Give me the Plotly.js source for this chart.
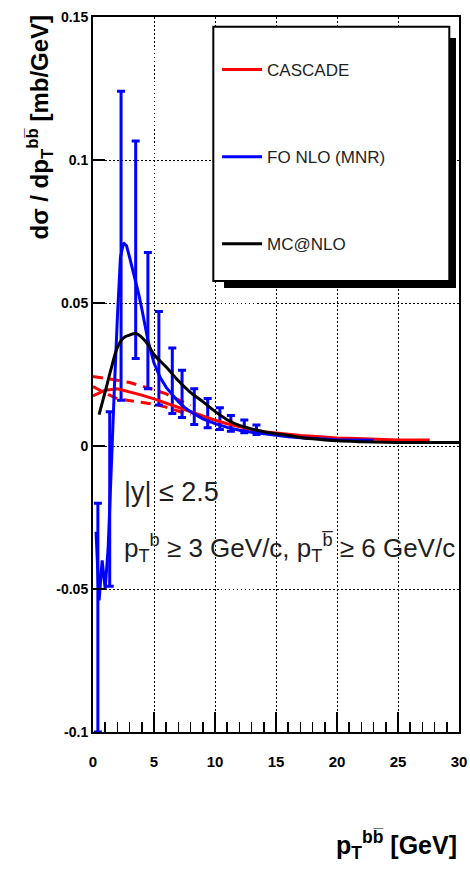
<!DOCTYPE html>
<html>
<head>
<meta charset="utf-8">
<script src="https://cdn.plot.ly/plotly-3.0.1.min.js"></script>
<style>html,body{margin:0;padding:0;background:#fff;}#chart{width:470px;height:871px;}</style>
</head>
<body>
<div id="chart"></div>
<script>
// ---- data ----
const cascadeX = [0,1,2,3,4,5,6,7,8,9,10,11,12,13,14,15,16,17,18,19,20,21,22,23,24,25,26,27,27.6];
const cascadeY = [0.0175,0.0195,0.0200,0.0190,0.0178,0.0165,0.0150,0.0133,0.0118,0.0103,0.0090,0.0078,0.0067,0.0058,0.0050,0.0045,0.0041,0.0037,0.0034,0.0030,0.0028,0.0027,0.0025,0.0023,0.0022,0.0021,0.0021,0.0021,0.0021];
const cascadeBandX = [0,1,2,3,4,5,6,7,8];
const cascadeUpY = [0.0243,0.0237,0.0230,0.0222,0.0210,0.0197,0.0182,0.0162,0.0142];
const cascadeLoY = [0.0208,0.0185,0.0165,0.0158,0.0152,0.0146,0.0136,0.0122,0.0108];

const fonloX = [0.25,0.5,0.75,1.0,1.25,1.5,1.75,2.0,2.25,2.5,2.75,3.0,3.25,3.5,3.75,4.0,4.5,5.0,5.5,6.0,6.5,7.0,7.5,8,9,10,11,12,13,14,15,16,17,18,19,20,21,22,23];
const fonloY = [-0.030,-0.054,-0.040,-0.050,-0.035,-0.005,0.020,0.045,0.066,0.071,0.070,0.066,0.062,0.057,0.053,0.048,0.037,0.029,0.024,0.0205,0.0180,0.0155,0.0135,0.0120,0.0095,0.0078,0.0065,0.0055,0.0048,0.0042,0.0036,0.0032,0.0029,0.0026,0.0024,0.0022,0.0021,0.0021,0.0020];

const errX   = [0.4,1.37,2.3,3.5,4.5,5.4,6.5,7.3,8.3,9.4,10.4,11.3,12.4,13.4];
const errY   = [-0.054,-0.018,0.070,0.060,0.040,0.026,0.019,0.015,0.0115,0.009,0.0075,0.0065,0.0057,0.005];
const errTop = [-0.020,0.012,0.124,0.1066,0.0677,0.047,0.0343,0.0265,0.020,0.0166,0.0134,0.0107,0.0091,0.0073];
const errBot = [-0.100,-0.049,0.016,0.0306,0.020,0.0143,0.0114,0.0100,0.0075,0.0064,0.0058,0.0052,0.0046,0.0040];

const mcnloX = [0.5,1,1.5,2,2.5,3,3.5,4,4.5,5,6,7,8,9,10,11,12,13,14,15,16,17,18,19,20,22,24,26,28,30];
const mcnloY = [0.011,0.019,0.0272,0.0345,0.0378,0.0388,0.0393,0.0380,0.0355,0.0320,0.0276,0.0228,0.0187,0.0155,0.0121,0.0092,0.0072,0.0060,0.0050,0.0043,0.0037,0.0030,0.0025,0.0021,0.0018,0.0015,0.0013,0.0012,0.0012,0.0012];

const xTickVals = [0,5,10,15,20,25,30];
const xTickText = ['0','5','10','15','20','25','30'];
const yTickVals = [-0.1,-0.05,0,0.05,0.1,0.15];
const yTickText = ['-0.1','-0.05','0','0.05','0.1','0.15'];

const legendNames = ['CASCADE','FO NLO (MNR)','MC@NLO'];
// ---------------------------------------

const RED = 'rgb(255,0,0)', BLUE = 'rgb(0,0,255)', BLACK = 'rgb(0,0,0)';
const FONT = 'Liberation Sans, Arial, Helvetica, sans-serif';

const traces = [
  {x: cascadeBandX, y: cascadeUpY, mode: 'lines', line: {color: RED, width: 3, dash: '10px,7px'}, showlegend: false, hoverinfo: 'skip'},
  {x: cascadeBandX, y: cascadeLoY, mode: 'lines', line: {color: RED, width: 3, dash: '10px,7px'}, showlegend: false, hoverinfo: 'skip'},
  {x: errX, y: errY, mode: 'markers', marker: {size: 1, color: 'rgba(0,0,0,0)'}, showlegend: false,
   error_y: {type: 'data', symmetric: false,
     array: errTop.map((t, i) => t - errY[i]),
     arrayminus: errBot.map((b, i) => errY[i] - b),
     color: BLUE, thickness: 3, width: 4}},
  {x: cascadeX, y: cascadeY, mode: 'lines', name: legendNames[0], legendgroup: 'a', line: {color: RED, width: 3}},
  {x: fonloX, y: fonloY, mode: 'lines', name: legendNames[1], legendgroup: 'b', line: {color: BLUE, width: 3}},
  {x: mcnloX, y: mcnloY, mode: 'lines', name: legendNames[2], legendgroup: 'c', line: {color: BLACK, width: 3, shape: 'spline'}}
];

const layout = {
  width: 470, height: 871,
  margin: {l: 93, r: 11, t: 17, b: 139, pad: 0},
  paper_bgcolor: 'white', plot_bgcolor: 'white',
  font: {family: FONT, color: 'black'},
  showlegend: true,
  legend: {x: 0.339, y: 0.951, xanchor: 'left', yanchor: 'top', bgcolor: 'rgba(0,0,0,0)', borderwidth: 0,
           font: {family: FONT, size: 17, color: 'rgb(30,30,30)'}, itemwidth: 40, traceorder: 'grouped', tracegroupgap: 62},
  xaxis: {range: [0, 30], tickmode: 'array', tickvals: xTickVals, ticktext: xTickText,
          ticks: 'inside', ticklen: 20, tickwidth: 1.5, tickcolor: 'black',
          minor: {tickmode: 'linear', tick0: 0, dtick: 1, ticks: 'inside', ticklen: 10, tickwidth: 1.5, tickcolor: 'black', showgrid: false},
          showline: true, linewidth: 2, linecolor: 'black', mirror: true,
          showgrid: true, gridcolor: 'black', gridwidth: 1, griddash: '1.5px,2.5px', zeroline: false,
          tickfont: {family: FONT, size: 15, weight: 'bold', color: 'black'}, ticklabelstandoff: 15},
  yaxis: {range: [-0.1, 0.15], tickmode: 'array', tickvals: yTickVals, ticktext: yTickText,
          ticks: 'inside', ticklen: 12, tickwidth: 1.5, tickcolor: 'black',
          showline: true, linewidth: 2, linecolor: 'black', mirror: true,
          showgrid: true, gridcolor: 'black', gridwidth: 1, griddash: '1.5px,2.5px', zeroline: false,
          tickfont: {family: FONT, size: 14, weight: 'bold', color: 'black'}},
  shapes: [
    {type: 'rect', xref: 'paper', yref: 'paper', x0: 0.358, x1: 0.9918, y0: 0.621, y1: 0.9706, fillcolor: 'black', line: {width: 0}},
    {type: 'rect', xref: 'paper', yref: 'paper', x0: 0.3287, x1: 0.9735, y0: 0.6308, y1: 0.9864, fillcolor: 'white', line: {color: 'black', width: 2}}
  ],
  annotations: [
    {xref: 'paper', yref: 'paper', x: 0.078, y: 0.336, xanchor: 'left', yanchor: 'middle', showarrow: false,
     text: '|y| ≤ 2.5', font: {family: FONT, size: 27, color: 'rgb(30,30,30)'}},
    {xref: 'paper', yref: 'paper', x: 0.078, y: 0.257, xanchor: 'left', yanchor: 'middle', showarrow: false,
     text: 'p<sub>T</sub><sup>b</sup> ≥ 3 GeV/c, p<sub>T</sub><sup>b\u0305</sup> ≥ 6 GeV/c', font: {family: FONT, size: 26, color: 'rgb(30,30,30)'}},
    {xref: 'paper', yref: 'paper', x: -0.1448, y: 0.8455, xanchor: 'center', yanchor: 'middle', showarrow: false, textangle: -90,
     text: 'dσ / dp<sub>T</sub><sup>bb\u0305</sup> [mb/GeV]', font: {family: FONT, size: 24, weight: 'bold', color: 'black'}},
    {xref: 'paper', yref: 'paper', x: 0.828, y: -0.158, xanchor: 'center', yanchor: 'middle', showarrow: false,
     text: 'p<sub>T</sub><sup>bb\u0305</sup> [GeV]', font: {family: FONT, size: 25, weight: 'bold', color: 'black'}}
  ]
};

Plotly.newPlot('chart', traces, layout, {displayModeBar: false, staticPlot: true});
</script>
</body>
</html>
